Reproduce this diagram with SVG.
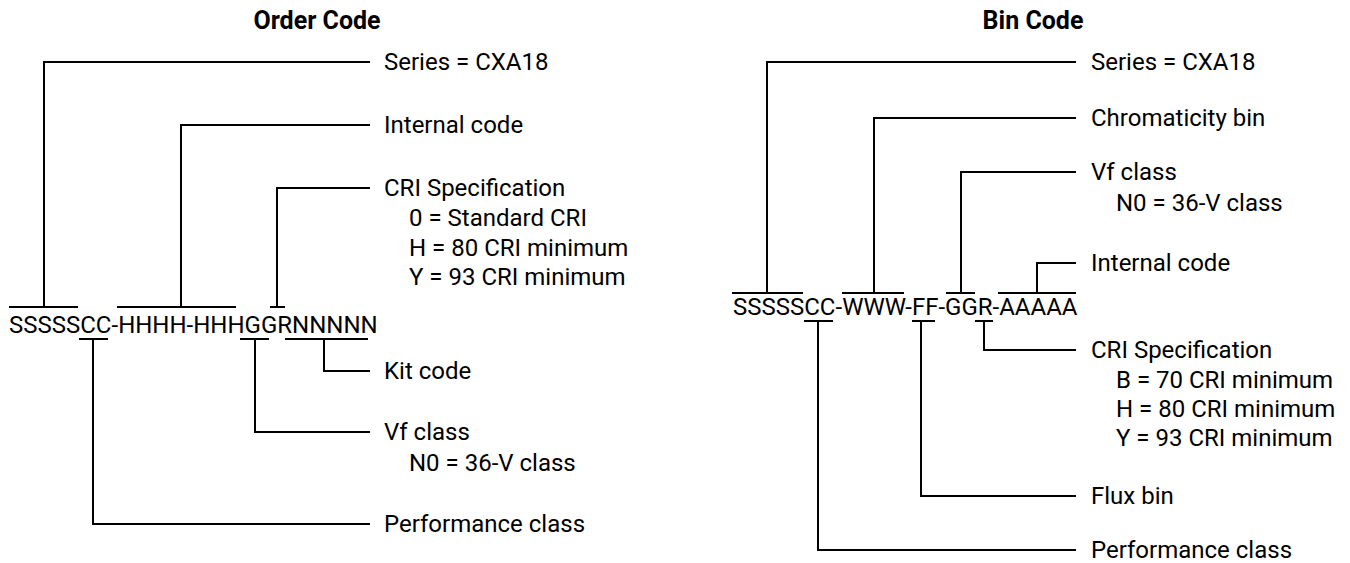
<svg xmlns="http://www.w3.org/2000/svg" width="1350" height="563" viewBox="0 0 1350 563">
<style>
text{font-family:Roboto,"Liberation Sans",sans-serif;font-size:24px;fill:#000}
.t{font-weight:700;font-size:25px;text-anchor:middle}
.c path{fill:none;stroke:#000;stroke-width:2}
</style>
<rect width="1350" height="563" fill="#fff"/>
<g id="order-title"><text class="t" x="317" y="29">Order Code</text></g>
<g id="bin-title"><text class="t" x="1033" y="29">Bin Code</text></g>
<g id="order-code"><text x="9" y="333">SSSSSCC-HHHH-HHHGGRNNNNN</text></g>
<g id="bin-code"><text x="733" y="315">SSSSSCC-WWW-FF-GGR-AAAAA</text></g>
<g id="o-series"><text x="384" y="70">Series = CXA18</text></g>
<g id="o-internal"><text x="384" y="133">Internal code</text></g>
<g id="o-cri"><text x="384" y="196">CRI Specification</text><text x="409" y="226">0 = Standard CRI</text><text x="409" y="256">H = 80 CRI minimum</text><text x="409" y="285">Y = 93 CRI minimum</text></g>
<g id="o-kit"><text x="384" y="379">Kit code</text></g>
<g id="o-vf"><text x="384" y="440">Vf class</text><text x="409" y="471">N0 = 36-V class</text></g>
<g id="o-perf"><text x="384" y="532">Performance class</text></g>
<g id="b-series"><text x="1091" y="70">Series = CXA18</text></g>
<g id="b-chrom"><text x="1091" y="126">Chromaticity bin</text></g>
<g id="b-vf"><text x="1091" y="180">Vf class</text><text x="1116" y="211">N0 = 36-V class</text></g>
<g id="b-internal"><text x="1091" y="271">Internal code</text></g>
<g id="b-cri"><text x="1091" y="358">CRI Specification</text><text x="1116" y="388">B = 70 CRI minimum</text><text x="1116" y="417">H = 80 CRI minimum</text><text x="1116" y="446">Y = 93 CRI minimum</text></g>
<g id="b-flux"><text x="1091" y="504">Flux bin</text></g>
<g id="b-perf"><text x="1091" y="558">Performance class</text></g>
<g id="connectors" class="c">
<path d="M9 307H78M44 307V62H370"/>
<path d="M117 307H236M181 307V125H370"/>
<path d="M270 307H285M277 307V188H370"/>
<path d="M79 339H108M93 339V524H370"/>
<path d="M240 339H269M255 339V432H370"/>
<path d="M285 339H368M324 339V371H370"/>
<path d="M732 293H803M767 293V62H1076"/>
<path d="M842 293H904M874 293V118H1076"/>
<path d="M946 293H975M961 293V172H1076"/>
<path d="M998 293H1076M1037 293V263H1076"/>
<path d="M804 321H833M818 321V550H1076"/>
<path d="M912 321H935M921 321V496H1076"/>
<path d="M975 321H993M984 321V350H1076"/>
</g>
</svg>
